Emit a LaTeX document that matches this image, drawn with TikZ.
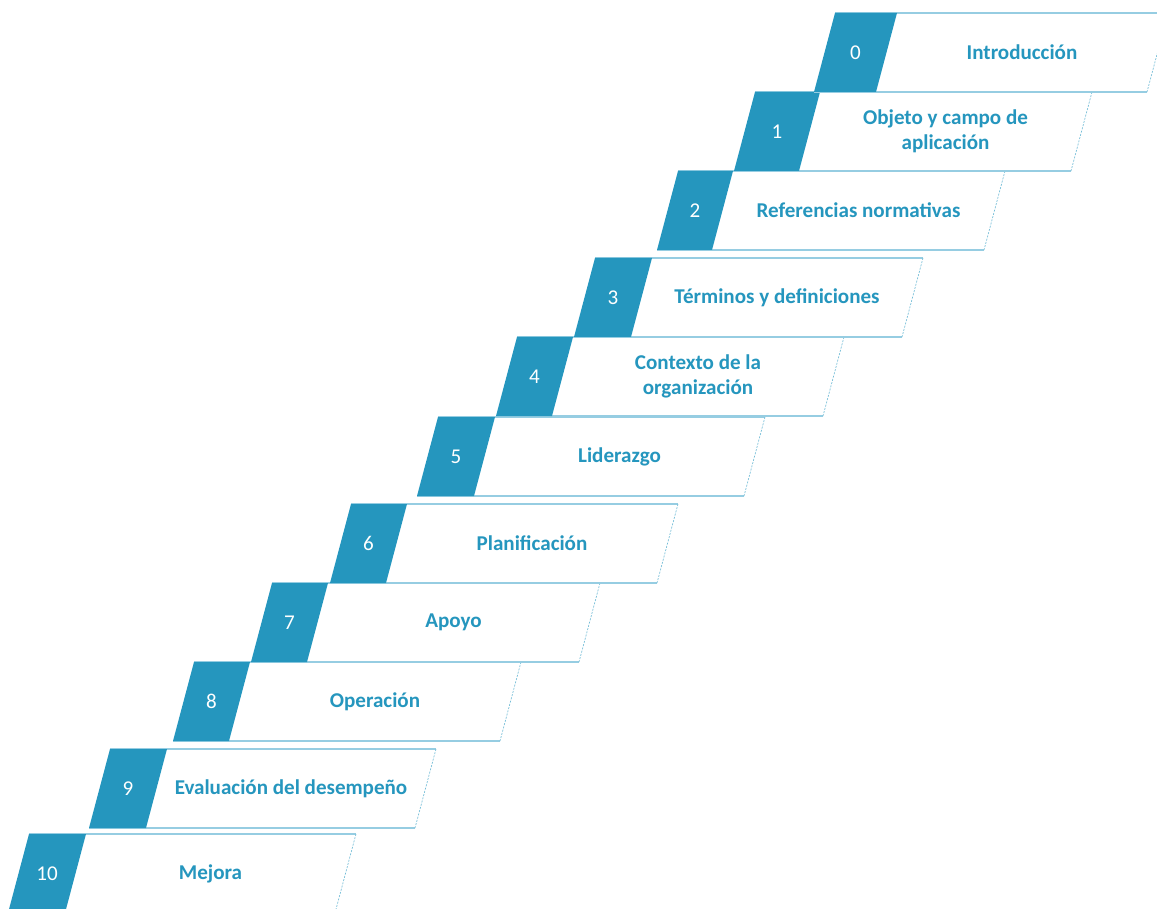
\documentclass[tikz,border=0pt]{standalone}
\usepackage{fontspec}
\setmainfont{Carlito}
\definecolor{stepblue}{RGB}{37,150,190}
\definecolor{edgeblue}{RGB}{150,205,226}
\begin{document}
\begin{tikzpicture}[x=0.75pt,y=-0.75pt,
  edgeline/.style={draw=edgeblue,line width=1.2pt},
  sideline/.style={draw=edgeblue!70!stepblue,line width=0.5pt,dash pattern=on 1.5pt off 1pt},
  numtext/.style={text=white,font=\fontsize{15.8}{19}\selectfont},
  labeltext/.style={text=stepblue,font=\fontsize{15.8}{19}\selectfont\bfseries,align=center}]
\useasboundingbox (0,0) rectangle (1157,909);
\clip (0,0) rectangle (1157,909);
\foreach \i/\tl/\ty/\bw/\W/\txt in {
  10/29/834/57/327/{Mejora},
  9/110/749/57/326/{Evaluación del desempeño},
  8/194/662/56/327/{Operación},
  7/272/583/56/328/{Apoyo},
  6/351/504/56/327/{Planificación},
  5/438/417/57/327/{Liderazgo},
  4/517/337/56/327/{Contexto de la\\organización},
  3/595/258/57/328/{Términos y definiciones},
  2/678/171/55/327/{Referencias normativas},
  1/755/92/65/337/{Objeto y campo de\\aplicación},
  0/835/13/62/333/{Introducción}} {
  \fill[white] ({\tl+\bw},\ty) -- ({\tl+\W},\ty) -- ({\tl+\W-21},{\ty+79}) -- ({\tl+\bw-21},{\ty+79}) -- cycle;
  \draw[edgeline] ({\tl},\ty) -- ({\tl+\W},\ty);
  \draw[edgeline] ({\tl-21},{\ty+79}) -- ({\tl+\W-21},{\ty+79});
  \draw[sideline] ({\tl+\W},\ty) -- ({\tl+\W-21},{\ty+79});
  \fill[stepblue] ({\tl},\ty) -- ({\tl+\bw},\ty) -- ({\tl+\bw-21},{\ty+79}) -- ({\tl-21},{\ty+79}) -- cycle;
  \node[numtext] (n\i) at ({\tl+\bw/2-10.5},{\ty+39.5}) {\i};
  \node[labeltext] (t\i) at ({\tl+(\bw+\W)/2-10.5},{\ty+39.5}) {\txt};
}
\end{tikzpicture}
\end{document}
